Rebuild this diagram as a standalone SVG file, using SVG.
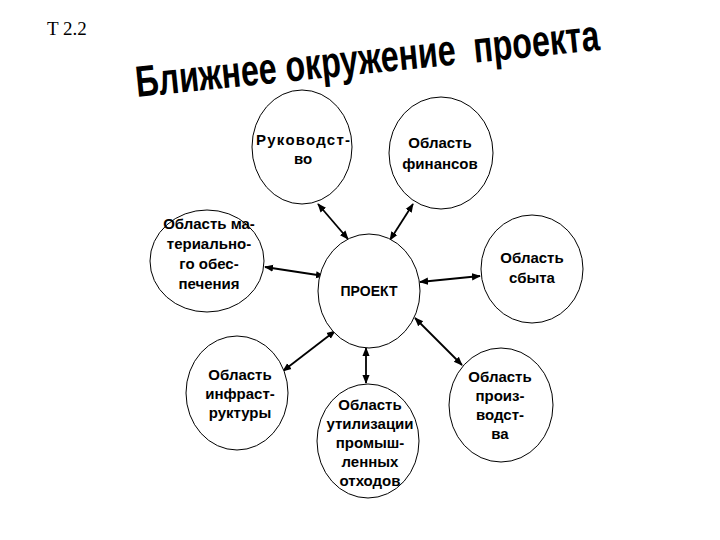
<svg xmlns="http://www.w3.org/2000/svg" width="720" height="540" viewBox="0 0 720 540">
<style>
.node ellipse{fill:#fff;stroke:#000;stroke-width:1}
.node text{font-family:"Liberation Sans",Arial,sans-serif;font-weight:bold;font-size:15px;text-anchor:middle;fill:#000}
.conn line{stroke:#000;stroke-width:1.8;marker-start:url(#ah);marker-end:url(#ah)}
</style>
<defs>
<marker id="ah" viewBox="0 0 10 10" refX="9" refY="5" markerWidth="5" markerHeight="5" orient="auto-start-reverse" markerUnits="strokeWidth">
<path d="M0,1 L10,5 L0,9 z" fill="#000"/>
</marker>
</defs>
<rect width="720" height="540" fill="#fff"/>
<text x="47" y="35" font-family="Liberation Serif,Times New Roman,serif" font-size="19">T 2.2</text>
<text x="137" y="97" transform="rotate(-5.8 137 97)" font-family="Liberation Sans,Arial,sans-serif" font-weight="bold" font-size="44" textLength="466" lengthAdjust="spacingAndGlyphs" style="white-space:pre">Ближнее окружение  проекта</text>
<g class="conn">
<line x1="318" y1="204" x2="348" y2="239"/>
<line x1="413" y1="204" x2="390" y2="240"/>
<line x1="265" y1="267" x2="324" y2="276"/>
<line x1="420" y1="282" x2="480" y2="276"/>
<line x1="335" y1="331" x2="283" y2="371"/>
<line x1="366" y1="348" x2="366" y2="383"/>
<line x1="415" y1="318" x2="462" y2="365"/>
</g>
<g id="n-rukovodstvo" class="node">
<ellipse cx="302" cy="147" rx="50" ry="57"/>
<text x="303" y="145" textLength="94" lengthAdjust="spacing">Руководст-</text>
<text x="303" y="164">во</text>
</g>
<g id="n-finansy" class="node">
<ellipse cx="441" cy="153" rx="52" ry="56"/>
<text x="440" y="148">Область</text>
<text x="440" y="169">финансов</text>
</g>
<g id="n-material" class="node">
<ellipse cx="207" cy="261" rx="57" ry="51"/>
<text x="209" y="229">Область ма-</text>
<text x="209" y="249">териально-</text>
<text x="209" y="269">го обес-</text>
<text x="209" y="289">печения</text>
</g>
<g id="n-proekt" class="node">
<ellipse cx="369" cy="291" rx="51" ry="57"/>
<text x="369" y="296" style="font-size:14px">ПРОЕКТ</text>
</g>
<g id="n-sbyt" class="node">
<ellipse cx="532" cy="269" rx="51" ry="54"/>
<text x="532" y="263">Область</text>
<text x="532" y="283">сбыта</text>
</g>
<g id="n-infra" class="node">
<ellipse cx="237" cy="393" rx="51" ry="57"/>
<text x="240" y="380">Область</text>
<text x="240" y="399">инфраст-</text>
<text x="240" y="418">руктуры</text>
</g>
<g id="n-util" class="node">
<ellipse cx="368" cy="441" rx="51" ry="57"/>
<text x="370" y="410">Область</text>
<text x="370" y="429">утилизации</text>
<text x="370" y="448">промыш-</text>
<text x="370" y="467">ленных</text>
<text x="370" y="486">отходов</text>
</g>
<g id="n-proizv" class="node">
<ellipse cx="501" cy="405" rx="52" ry="57"/>
<text x="500" y="382">Область</text>
<text x="500" y="401">произ-</text>
<text x="500" y="420">водст-</text>
<text x="500" y="439">ва</text>
</g>
</svg>
